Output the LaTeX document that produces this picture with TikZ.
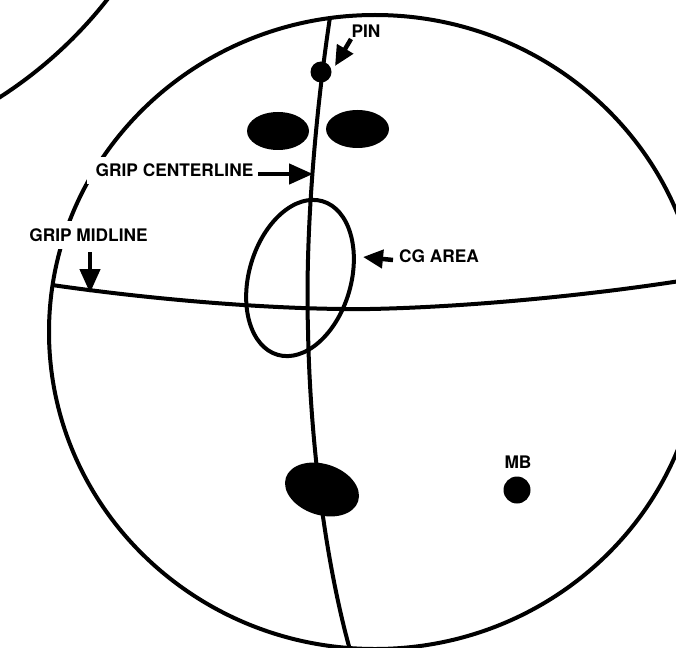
\documentclass[tikz,border=0pt]{standalone}
\usepackage{fontspec}
\setmainfont{TeX Gyre Heros}
\usetikzlibrary{arrows.meta}
\tikzset{x=1pt,y=-1pt,
 ln/.style={line width=4pt,black},
 lab/.style={font=\bfseries\fontsize{17.3}{19}\selectfont,inner sep=0pt},
 gaplab/.style={lab,fill=white,inner xsep=9pt,inner ysep=7pt},
 arr/.style={line width=4.5pt,-{Triangle[length=24pt,width=20pt]}},
 arrsmall/.style={line width=4.5pt,-{Triangle[length=20pt,width=18pt]}},
 blob/.style={fill=black,draw=none}}
\begin{document}
\begin{tikzpicture}
\useasboundingbox (0,0) rectangle (676,647);
\clip (0,0) rectangle (676,647);
\fill[white] (0,0) rectangle (676,647);
% circles
\draw[ln] (375,332) ellipse [x radius=326,y radius=317];
\draw[ln] (-235,-269) circle [radius=435];
% centerline
\coordinate (ct) at (330,17);
\coordinate (cb) at (350,650);
\draw[ln] (ct) .. controls (316,110) and (305,230) .. (308,330) .. controls (310,440) and (325,560) .. (cb);
% midline
\coordinate (ml) at (52,285);
\coordinate (mr) at (680,281);
\draw[ln] (ml) .. controls (170,302) and (290,310) .. (370,309) .. controls (470,307) and (590,295) .. (mr);
% CG
\draw[ln,rotate around={-16.3:(300,278)}] (300,278) ellipse [x radius=51,y radius=80];
\node[blob,circle,minimum size=21pt,inner sep=0pt] (pin) at (321,72) {};
\fill (278,131) ellipse [x radius=31,y radius=19];
\fill (357.5,129) ellipse [x radius=31.5,y radius=19];
\fill[rotate around={-18:(322,489.5)}] (322,489.5) ellipse [x radius=38,y radius=25.5];
\node[blob,circle,minimum size=27pt,inner sep=0pt] (mb) at (517,490) {};
% labels
\node[lab] (lpin) at (366,31) {PIN};
\node[gaplab] (lgc) at (174.5,170.5) {GRIP CENTERLINE};
\node[gaplab] (lgm) at (88.5,235) {GRIP MIDLINE};
\node[lab] (lcg) at (439,256) {CG AREA};
\node[lab] (lmb) at (518,462.5) {MB};
\coordinate (a1) at (351,39); \coordinate (a1e) at (335,66);
\coordinate (a2) at (258,174); \coordinate (a2e) at (313,174);
\coordinate (a3) at (90,252); \coordinate (a3e) at (90,293);
\coordinate (a4) at (393,260); \coordinate (a4e) at (363,257);
\draw[arrsmall] (a1) -- (a1e);
\draw[arr] (a2) -- (a2e);
\draw[arr] (a3) -- (a3e);
\draw[arrsmall] (a4) -- (a4e);
\end{tikzpicture}
\end{document}
